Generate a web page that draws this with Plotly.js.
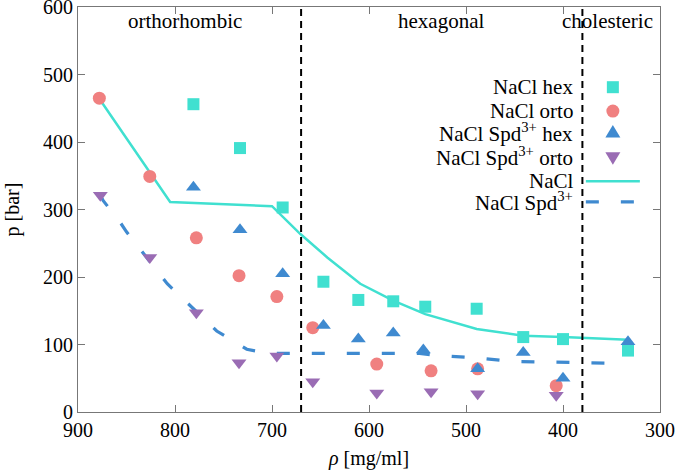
<!DOCTYPE html>
<html>
<head>
<meta charset="utf-8">
<script src="https://cdn.plot.ly/plotly-3.0.1.min.js"></script>
<style>html,body{margin:0;padding:0;background:#fff;}#chart{width:675px;height:472px;}</style>
</head>
<body>
<div id="chart"></div>
<script>
// ---- data ----
const naclHexX = [781, 733, 689, 647, 611, 575, 542, 489, 441, 400, 333];
const naclHexY = [456, 391, 303, 193, 166, 164, 156, 153, 111, 108, 91];

const naclOrtoX = [878, 826, 778, 734, 695, 658, 592, 536, 488, 407];
const naclOrtoY = [465, 349, 258, 202, 171, 125, 71, 61, 64, 39];

const spdHexX = [781, 733, 689, 647, 611, 575, 544, 488, 441, 400, 333];
const spdHexY = [333, 270, 205, 128, 108, 117, 92, 64, 88, 50, 104];

const spdOrtoX = [877, 826, 778, 734, 695, 658, 592, 536, 488, 407];
const spdOrtoY = [321, 229, 147, 73, 83, 45, 28, 30, 27, 25];

const naclLineX = [878, 805, 700, 671, 643, 609, 575, 542, 489, 441, 400, 333];
const naclLineY = [464, 311, 305, 264, 229, 190, 165, 145, 123, 113, 111, 107];

const spdLineX = [877, 874, 857, 850, 808, 757, 726, 705, 611, 550, 530, 488, 453, 417, 383, 341];
const spdLineY = [321, 313, 282, 267, 190, 120, 93, 87, 87, 87, 84, 80, 75, 74, 72, 72];

const phaseBoundaries = [670, 380];
const phaseNames = ['orthorhombic', 'hexagonal', 'cholesteric'];
const phaseLabelX = [790, 526, 354];
const phaseLabelY = [579, 579, 579];

const xTicks = [900, 800, 700, 600, 500, 400, 300];
const yTicks = [0, 100, 200, 300, 400, 500, 600];

const legendNames = ['NaCl hex', 'NaCl orto', 'NaCl Spd<sup>3+</sup> hex',
                     'NaCl Spd<sup>3+</sup> orto', 'NaCl', 'NaCl Spd<sup>3+</sup>'];

// ---- styles ----
const cTurq = '#40E0D0';
const cCoral = '#F08080';
const cBlue = '#3F8AD0';
const cPurple = '#9A6CB4';
const FONT = 'Liberation Serif, Times New Roman, serif';

const traces = [
  {x: naclLineX, y: naclLineY, mode: 'lines', line: {color: cTurq, width: 2.5}, name: legendNames[4]},
  {x: spdLineX, y: spdLineY, mode: 'lines', line: {color: cBlue, width: 3.2, dash: '13px,22px'}, name: legendNames[5]},
  {x: naclHexX, y: naclHexY, mode: 'markers', marker: {symbol: 'square', size: 12, color: cTurq}, name: legendNames[0]},
  {x: naclOrtoX, y: naclOrtoY, mode: 'markers', marker: {symbol: 'circle', size: 13, color: cCoral}, name: legendNames[1]},
  {x: spdHexX, y: spdHexY, mode: 'markers', marker: {symbol: 'triangle-up', size: 13, color: cBlue}, name: legendNames[2]},
  {x: spdOrtoX, y: spdOrtoY, mode: 'markers', marker: {symbol: 'triangle-down', size: 13, color: cPurple}, name: legendNames[3]}
];

// legend built from shapes + annotations (text on left, symbol on right)
const legRowsY = [0.802, 0.743, 0.689, 0.630, 0.570, 0.519];
const legTextX = 0.854;
const legSymX = 0.919;

const shapes = [];
phaseBoundaries.forEach(b => shapes.push({
  type: 'line', xref: 'x', yref: 'paper', x0: b, x1: b, y0: 0, y1: 1,
  line: {color: '#000', width: 2, dash: '7px,5px'}
}));
function pix(extra) {
  return Object.assign({xref: 'paper', yref: 'paper', xsizemode: 'pixel', ysizemode: 'pixel', xanchor: legSymX}, extra);
}
shapes.push(pix({type: 'rect', yanchor: legRowsY[0], x0: -6, x1: 6, y0: -6, y1: 6, fillcolor: cTurq, line: {width: 0}}));
shapes.push(pix({type: 'circle', yanchor: legRowsY[1], x0: -6.5, x1: 6.5, y0: -6.5, y1: 6.5, fillcolor: cCoral, line: {width: 0}}));
shapes.push(pix({type: 'path', yanchor: legRowsY[2], path: 'M -7.5 -4.5 L 7.5 -4.5 L 0 8 Z', fillcolor: cBlue, line: {width: 0}}));
shapes.push(pix({type: 'path', yanchor: legRowsY[3], path: 'M -7.5 4.5 L 7.5 4.5 L 0 -8 Z', fillcolor: cPurple, line: {width: 0}}));
shapes.push(pix({type: 'line', yanchor: legRowsY[4], x0: -27, x1: 27, y0: 0, y1: 0, line: {color: cTurq, width: 2.5}}));
shapes.push(pix({type: 'line', yanchor: legRowsY[5], x0: -27, x1: 27, y0: 0, y1: 0, line: {color: cBlue, width: 3.2, dash: '13px,22px'}}));

const annotations = [];
phaseNames.forEach((t, i) => annotations.push({
  x: phaseLabelX[i], y: phaseLabelY[i], xref: 'x', yref: 'y', text: t, showarrow: false,
  xanchor: 'center', yanchor: 'middle', font: {family: FONT, size: 21, color: '#000'}
}));
legendNames.forEach((t, i) => annotations.push({
  x: legTextX, y: legRowsY[i], xref: 'paper', yref: 'paper', text: t, showarrow: false,
  xanchor: 'right', yanchor: 'middle', font: {family: FONT, size: 21, color: '#000'}
}));

const axisCommon = {
  showgrid: false, zeroline: false, showline: true, linecolor: '#777', linewidth: 1,
  mirror: 'ticks', ticks: 'inside', ticklen: 7, tickcolor: '#777', tickwidth: 1,
  ticklabeloverflow: 'allow',
  tickfont: {family: FONT, size: 20, color: '#000'}
};

const layout = {
  width: 675, height: 472,
  margin: {l: 78, r: 15, t: 7, b: 60},
  paper_bgcolor: '#fff', plot_bgcolor: '#fff',
  showlegend: false,
  font: {family: FONT, size: 20, color: '#000'},
  xaxis: Object.assign({}, axisCommon, {
    range: [900, 300], tickvals: xTicks, ticktext: xTicks.map(String),
    title: {text: '<i>ρ</i> [mg/ml]', font: {family: FONT, size: 20, color: '#000'}, standoff: 10}
  }),
  yaxis: Object.assign({}, axisCommon, {
    range: [0, 600], tickvals: yTicks, ticktext: yTicks.map(String),
    title: {text: 'p [bar]', font: {family: FONT, size: 20, color: '#000'}, standoff: 18}
  }),
  shapes: shapes,
  annotations: annotations
};

Plotly.newPlot('chart', traces, layout, {displayModeBar: false, staticPlot: true});
</script>
</body>
</html>
